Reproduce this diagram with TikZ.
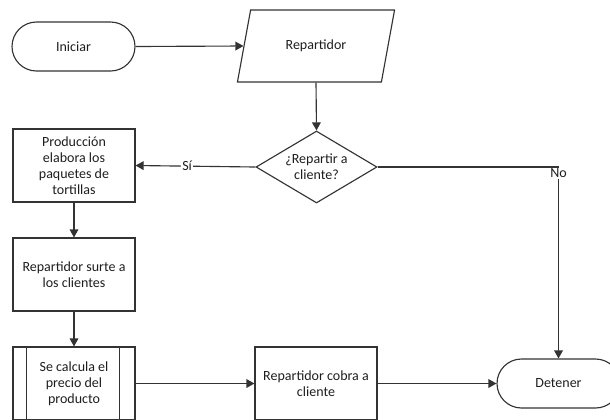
\documentclass[tikz,border=0pt]{standalone}
\usepackage{fontspec}
\setmainfont{Carlito}
\usetikzlibrary{shapes.geometric,shapes.misc,arrows.meta}
\definecolor{lngray}{HTML}{333333}
\definecolor{txtgray}{HTML}{1E1E1E}

\begin{document}
\begin{tikzpicture}[x=0.75pt,y=0.75pt,yscale=-1,xscale=1,
    every node/.style={font=\fontsize{10.5}{12}\selectfont,text=txtgray,align=center,inner sep=0pt},
    term/.style={draw=lngray,line width=0.85pt,rounded rectangle,minimum width=92.25pt,minimum height=36.75pt},
    datos/.style={draw=lngray,line width=0.85pt,trapezium,trapezium left angle=63,trapezium right angle=117,trapezium stretches=true,minimum width=118.5pt,minimum height=54pt},
    decide/.style={draw=lngray,line width=0.85pt,diamond,aspect=1.68,minimum width=90.75pt,minimum height=54pt},
    proc/.style={draw=lngray,line width=0.85pt,rectangle,minimum width=91.5pt,minimum height=54.75pt},
    arr/.style={draw=lngray,line width=0.85pt,-{Triangle[length=6pt,width=6.5pt]}},
    lbl/.style={fill=white,inner sep=1pt}]
                \useasboundingbox (0,0) rectangle (610,419);
                % shapes
                \draw (73.5,46.5) node [term] (ini) {Iniciar};
                \draw (316,46) node [datos] (rep) {Repartidor};
                \draw (316.5,167) node [decide] (dec) {¿Repartir a\\cliente?};
                \draw (74,165.5) node [proc] (prod) {Producción\\elabora los\\paquetes de\\tortillas};
                \draw (74,274.5) node [proc] (surte) {Repartidor surte a\\los clientes};
                \draw (74,383.5) node [proc] (calc) {Se calcula el\\precio del\\producto};
                \draw [lngray,line width=0.85pt] ([xshift=10.5pt]calc.north west) -- ([xshift=10.5pt]calc.south west) ([xshift=-12pt]calc.north east) -- ([xshift=-12pt]calc.south east);
                \draw (316,383.5) node [proc] (cobra) {Repartidor cobra a\\cliente};
                \draw (558.5,383.5) node [term] (det) {Detener};
                % connectors
                \draw [arr] (ini.east) -- (rep.west);
                \draw [arr] (rep.south) -- (dec.north);
                \draw [arr] (dec.west) -- (prod.east) node [lbl,pos=0.57] {Sí};
                \draw [arr] (dec.east) -| (det.north) node [lbl,pos=0.5,anchor=north] {No};
                \draw [arr] (prod.south) -- (surte.north);
                \draw [arr] (surte.south) -- (calc.north);
                \draw [arr] (calc.east) -- (cobra.west);
                \draw [arr] (cobra.east) -- (det.west);
\end{tikzpicture}
\end{document}
